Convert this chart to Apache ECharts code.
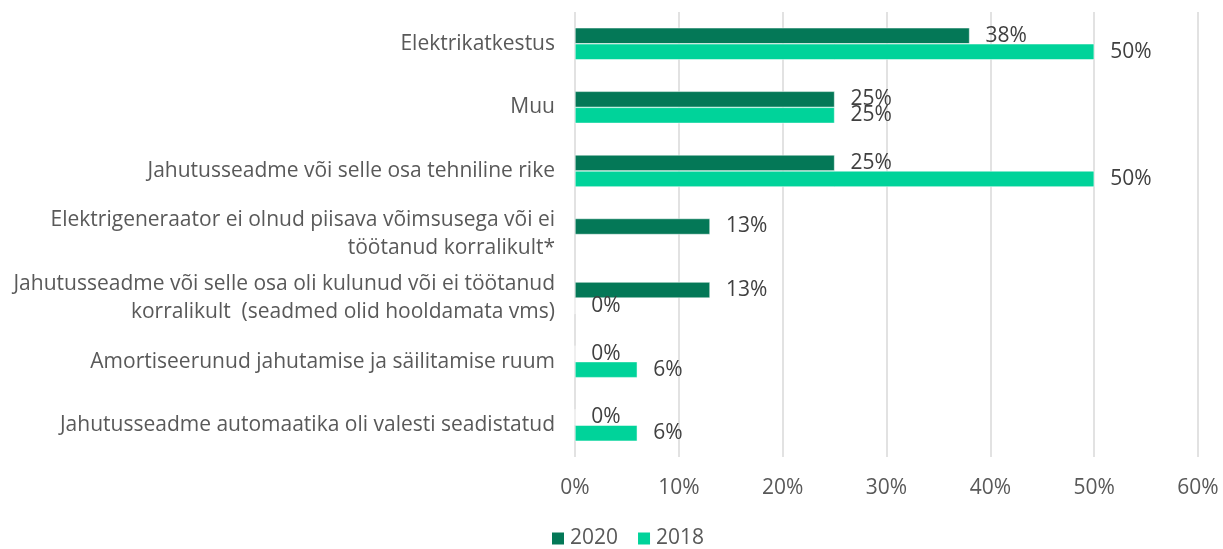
<!DOCTYPE html>
<html>
<head>
<meta charset="utf-8">
<script src="https://cdn.jsdelivr.net/npm/echarts@6/dist/echarts.min.js"></script>
<style>
  html, body { margin: 0; padding: 0; background: #fff; }
  #chart { width: 1223px; height: 549px; }
</style>
</head>
<body>
<div id="chart"></div>
<script>
const categories = [
  'Elektrikatkestus',
  'Muu',
  'Jahutusseadme või selle osa tehniline rike',
  'Elektrigeneraator ei olnud piisava võimsusega või ei\ntöötanud korralikult*',
  'Jahutusseadme või selle osa oli kulunud või ei töötanud\nkorralikult  (seadmed olid hooldamata vms)',
  'Amortiseerunud jahutamise ja säilitamise ruum',
  'Jahutusseadme automaatika oli valesti seadistatud'
]
const values2020 = [38, 25, 25, 13, 13, 0, 0]
const values2018 = [50, 25, 50, null, 0, 6, 6]
const xTicks = [0, 10, 20, 30, 40, 50, 60]

const fontFamily = 'Open Sans, Liberation Sans, sans-serif'

const chart = echarts.init(document.getElementById('chart'))

const labelStyle = {
  show: true,
  position: 'right',
  distance: 16,
  color: '#404040',
  fontSize: 21,
  fontFamily: fontFamily,
  formatter: p => p.value + '%'
}

chart.setOption({
  animation: false,
  grid: {
    left: 575,
    right: 25,
    top: 12,
    bottom: 92
  },
  legend: {
    top: 528,
    left: 550,
    padding: 0,
    itemWidth: 14,
    itemHeight: 14,
    itemGap: 18,
    icon: 'rect',
    textStyle: { color: '#595959', fontSize: 21, fontFamily: fontFamily },
    data: ['2020', '2018']
  },
  xAxis: {
    type: 'value',
    min: 0,
    max: 60,
    interval: 10,
    axisLine: { show: false },
    axisTick: { show: false },
    splitLine: { lineStyle: { color: '#d9d9d9', width: 1.5 } },
    axisLabel: {
      margin: 21,
      color: '#595959',
      fontSize: 21,
      fontFamily: fontFamily,
      formatter: v => xTicks.includes(v) ? v + '%' : ''
    }
  },
  yAxis: {
    type: 'category',
    inverse: true,
    data: categories,
    axisLine: { show: false },
    axisTick: { show: false },
    axisLabel: {
      margin: 20,
      color: '#595959',
      fontSize: 21,
      lineHeight: 28,
      fontFamily: fontFamily,
      align: 'right'
    }
  },
  series: [
    {
      name: '2020',
      type: 'bar',
      data: values2020,
      barWidth: 16,
      barGap: '0%',
      barCategoryGap: '50%',
      itemStyle: { color: '#047857', borderColor: '#ffffff', borderWidth: 0.5 },
      label: labelStyle
    },
    {
      name: '2018',
      type: 'bar',
      data: values2018,
      barWidth: 16,
      itemStyle: { color: '#00d39a', borderColor: '#ffffff', borderWidth: 0.5 },
      label: labelStyle
    }
  ]
})
</script>
</body>
</html>
